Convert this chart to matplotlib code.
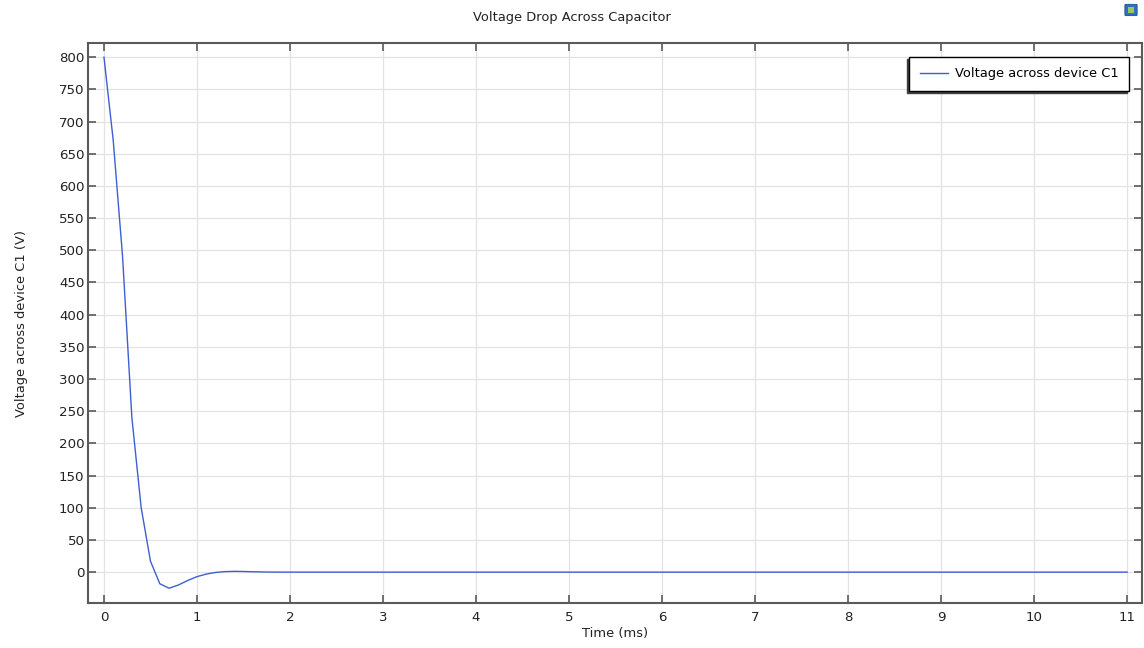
import numpy as np
import matplotlib
matplotlib.use('Agg')
import matplotlib.pyplot as plt
from matplotlib.patches import FancyBboxPatch, Rectangle

# ── data ──────────────────────────────────────────────────────────────────────
time_ms = [0.0, 0.1, 0.2, 0.3, 0.4, 0.5, 0.6, 0.7, 0.8, 0.9, 1.0,
           1.1, 1.2, 1.3, 1.4, 1.5, 1.6, 1.7, 1.8, 2.0, 3.0, 4.0,
           5.0, 6.0, 7.0, 8.0, 9.0, 10.0, 11.0]
voltage = [800, 670, 490, 240, 100, 17, -18, -25, -20, -13, -7,
           -3, -0.5, 0.8, 1.2, 1.0, 0.6, 0.3, 0.1, 0, 0, 0,
           0, 0, 0, 0, 0, 0, 0]
x_ticks = list(range(0, 12))
y_ticks = list(range(0, 801, 50))

LINE_COLOR = '#3d5fd0'
SPINE_COLOR = '#5a5a5a'
TEXT_COLOR = '#222222'

plt.rcParams['font.family'] = ['DejaVu Sans']

fig = plt.figure(figsize=(11.44, 6.48), dpi=100)
ax = fig.add_axes([0.0769, 0.0694, 0.9214, 0.8642])

ax.plot(time_ms, voltage, color=LINE_COLOR, linewidth=1.0, label='Voltage across device C1')

ax.set_xlim(-0.172, 11.16)
ax.set_ylim(-48, 822)
ax.set_xticks(x_ticks)
ax.set_yticks(y_ticks)
ax.grid(True, color='#e3e3e3', linewidth=0.9)
ax.set_axisbelow(True)

ax.tick_params(direction='in', length=6, width=1.2, color=SPINE_COLOR,
               top=True, right=True, labelsize=9.6, labelcolor=TEXT_COLOR)
ax.tick_params(axis='y', pad=2.5)
ax.tick_params(axis='x', pad=6)
for s in ax.spines.values():
    s.set_color(SPINE_COLOR)
    s.set_linewidth(1.5)

ax.set_xlabel('Time (ms)', fontsize=9.4, color=TEXT_COLOR, labelpad=2)
ax.set_ylabel('Voltage across device C1 (V)', fontsize=9.4, color=TEXT_COLOR, labelpad=22)
fig.text(0.5, 0.973, 'Voltage Drop Across Capacitor', ha='center', va='center',
         fontsize=9.4, color=TEXT_COLOR)

leg = ax.legend(loc='upper right', bbox_to_anchor=(0.9877, 0.975), borderaxespad=0,
                fontsize=9.4, fancybox=False, framealpha=1, edgecolor='black',
                shadow={'ox': -1.5, 'oy': -1.5, 'color': '#404040', 'alpha': 1},
                handlelength=2.15, handletextpad=0.55, borderpad=0.8)
leg.get_frame().set_linewidth(1.0)

# small toolbar icon top right
fig.patches.append(FancyBboxPatch((0.9843, 0.9769), 0.0087, 0.0154,
                                  boxstyle='round,pad=0.001', transform=fig.transFigure,
                                  facecolor='#2f6fc0', edgecolor='#1d4f99', linewidth=0.6))
fig.patches.append(Rectangle((0.9860, 0.9800), 0.0052, 0.0092, transform=fig.transFigure,
                             facecolor='#9cc85a', edgecolor='none'))

fig.savefig('out.png', dpi=100)
